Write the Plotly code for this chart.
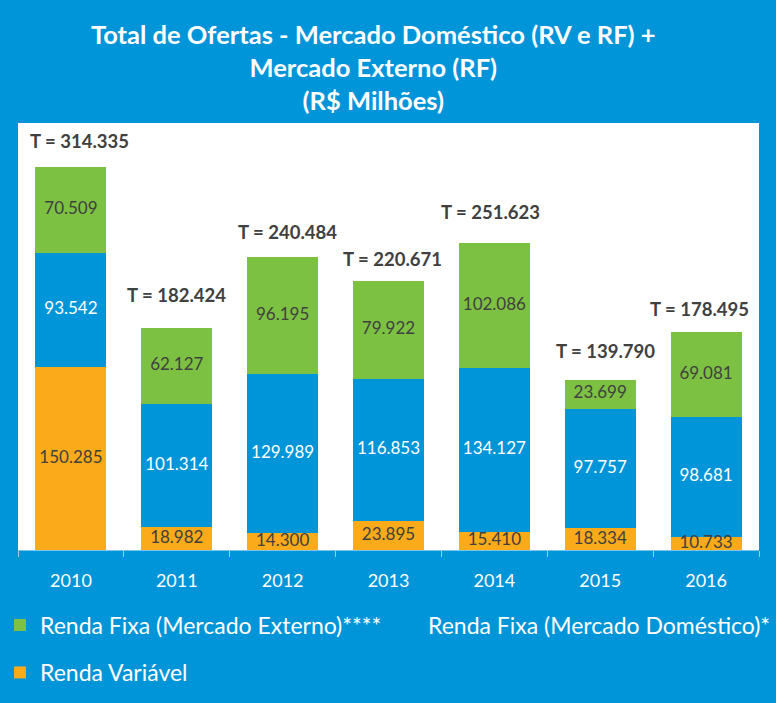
import plotly.graph_objects as go
import numpy as np

years = ['2010', '2011', '2012', '2013', '2014', '2015', '2016']
renda_variavel = [150285, 18982, 14300, 23895, 15410, 18334, 10733]
rf_domestico = [93542, 101314, 129989, 116853, 134127, 97757, 98681]
rf_externo = [70509, 62127, 96195, 79922, 102086, 23699, 69081]
totais = [314335, 182424, 240484, 220671, 251623, 139790, 178495]

# label offsets (pixels) for the total labels above each bar
total_dx = [9, 0, 5, 4, -4, 5, -7]
total_dy = [26, 33, 25, 22, 31, 29, 23]

BG = '#0095D9'
BLUE = '#0095D9'
GREEN = '#7DC142'
ORANGE = '#FBAA19'
DARK = '#404040'
FONT = 'Lato'


def fmt(v):
    return f"{v:,}".replace(",", ".")


fig = go.Figure()
fig.add_bar(x=years, y=renda_variavel, name='Renda Variável', marker_color=ORANGE,
            marker_line_width=0, legend='legend2', hoverinfo='skip')
fig.add_bar(x=years, y=rf_domestico, name='Renda Fixa (Mercado Doméstico)*', marker_color=BLUE,
            marker_line_width=0, legend='legend3', hoverinfo='skip')
fig.add_bar(x=years, y=rf_externo, name='Renda Fixa (Mercado Externo)****', marker_color=GREEN,
            marker_line_width=0, legend='legend', hoverinfo='skip')

rv = np.array(renda_variavel)
dom = np.array(rf_domestico)
ext = np.array(rf_externo)
mids = [(rv / 2, renda_variavel, DARK),
        (rv + dom / 2, rf_domestico, 'white'),
        (rv + dom + ext / 2, rf_externo, DARK)]
for ys, vals, col in mids:
    fig.add_scatter(x=years, y=ys, mode='text', text=[fmt(v) for v in vals],
                    textfont=dict(family=FONT, size=17, color=col),
                    showlegend=False, hoverinfo='skip', cliponaxis=False)

for i, t in enumerate(totais):
    fig.add_annotation(x=i, y=t, text=f"<b>T = {fmt(t)}</b>", showarrow=False,
                       yshift=total_dy[i], xshift=total_dx[i], yanchor='middle',
                       font=dict(family=FONT, size=18.5, color=DARK))

fig.add_annotation(xref='paper', yref='paper', x=0.48, y=1.0, yshift=106,
                   text="<b>Total de Ofertas - Mercado Doméstico (RV e RF) +<br>Mercado Externo (RF)<br>(R$ Milhões)</b>",
                   showarrow=False, yanchor='top', align='center',
                   font=dict(family=FONT, size=25.5, color='white'))

leg_common = dict(orientation='h', xanchor='left', yanchor='middle',
                  xref='container', yref='container',
                  font=dict(family=FONT, size=23, color='white'),
                  bgcolor='rgba(0,0,0,0)')

fig.update_layout(
    width=776, height=703,
    margin=dict(l=18, r=17, t=123, b=151),
    paper_bgcolor=BG, plot_bgcolor='white',
    barmode='stack', bargap=0.33,
    font=dict(family=FONT, color='white'),
    legend=dict(x=0.0, y=0.111, **leg_common),
    legend3=dict(x=0.5, y=0.111, **leg_common),
    legend2=dict(x=0.0, y=0.0434, **leg_common),
    xaxis=dict(type='category', range=[-0.5, 6.5], tickson='boundaries',
               ticks='outside', ticklen=6, ticklabelstandoff=18,
               tickcolor='#9cc9e6', showgrid=False, showline=False,
               tickfont=dict(family=FONT, size=18, color='white')),
    yaxis=dict(range=[0, 350000], visible=False, showgrid=False),
)

fig.write_html("out.html", config={'displayModeBar': False},
               post_script="document.body.style.margin='0';document.body.style.background='" + BG + "';")
